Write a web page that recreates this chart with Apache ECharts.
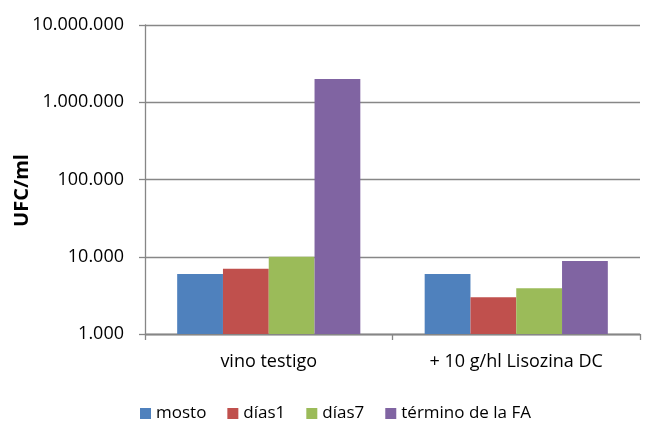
<!DOCTYPE html>
<html><head><meta charset="utf-8">
<script src="https://cdn.jsdelivr.net/npm/echarts@6/dist/echarts.min.js"></script>
<style>html,body{margin:0;padding:0;background:#fff}#c{width:648px;height:421px}</style>
</head><body><div id="c"></div>
<script>
const categories = ["vino testigo", "+ 10 g/hl Lisozina DC"];
const seriesNames = ["mosto", "días1", "días7", "término de la FA"];
const mosto = [6000, 6000];
const dias1 = [7000, 3000];
const dias7 = [10000, 3900];
const terminoFA = [2000000, 8800];
const colors = ["#4F81BD", "#C0504D", "#9BBB59", "#8064A2"];
const values = [mosto, dias1, dias7, terminoFA];
const FONT = "Open Sans";
function fmt(v){return String(Math.round(v)).replace(/\B(?=(\d{3})+(?!\d))/g, ".");}
const chart = echarts.init(document.getElementById('c'), null, {renderer:'canvas'});
chart.setOption({
  animation:false,
  textStyle:{fontFamily:FONT},
  grid:{left:145,right:8,top:25,bottom:87,containLabel:false,outerBoundsMode:'none'},
  legend:{top:400,left:135,itemWidth:11,itemHeight:11,itemGap:21,itemTextGap:3,icon:'rect',
    textStyle:{fontFamily:FONT,fontSize:17,color:'#000'},data:seriesNames},
  xAxis:{type:'category',data:categories,
    axisLine:{lineStyle:{color:'#868686',width:1.3}},
    axisTick:{show:true,length:6,lineStyle:{color:'#868686',width:1.3}},
    axisLabel:{color:'#000',fontSize:18,fontFamily:FONT,margin:19}},
  yAxis:{type:'log',logBase:10,min:1000,max:10000000,
    name:'UFC/ml',nameLocation:'middle',nameGap:113,nameRotate:90,nameMoveOverlap:false,
    nameTextStyle:{fontFamily:FONT,fontWeight:'bold',fontSize:20,color:'#000',padding:[0,22,0,0]},
    axisLine:{show:true,lineStyle:{color:'#868686',width:1.3}},
    axisTick:{show:true,length:6,lineStyle:{color:'#868686',width:1.3}},
    splitLine:{show:true,lineStyle:{color:'#878787',width:1.3}},
    minorTick:{show:false},
    axisLabel:{color:'#000',fontSize:18,fontFamily:FONT,margin:21,formatter:fmt}},
  series: seriesNames.map((n,i)=>({name:n,type:'bar',data:values[i],
    itemStyle:{color:colors[i]},barGap:'0%',barCategoryGap:'26%'}))
});
</script></body></html>
